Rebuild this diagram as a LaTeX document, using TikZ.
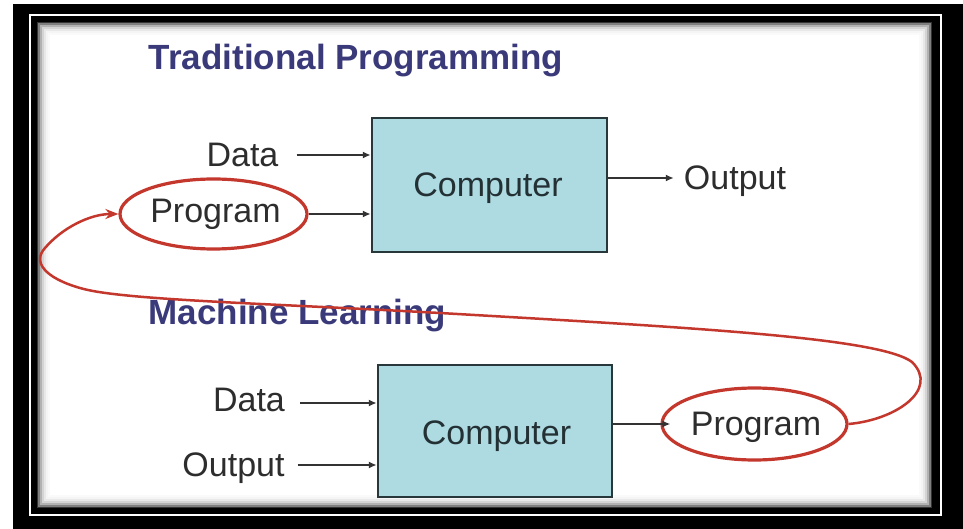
\documentclass[tikz,border=0pt]{standalone}
\usepackage{fontspec}
\setmainfont{Liberation Sans}
\usetikzlibrary{arrows.meta,shapes.geometric}
\definecolor{titleblue}{RGB}{58,58,122}
\definecolor{boxfill}{RGB}{174,218,226}
\definecolor{boxline}{RGB}{40,55,58}
\definecolor{loopred}{RGB}{195,55,45}
\definecolor{labelgray}{RGB}{45,45,45}
\tikzset{
  lbl/.style={inner sep=0pt, text depth=0pt, text=labelgray, font=\fontsize{34pt}{40pt}\selectfont},
  ttl/.style={inner sep=0pt, text depth=0pt, text=titleblue, font=\fontsize{35pt}{42pt}\selectfont\bfseries},
  compbox/.style={draw=boxline, fill=boxfill, line width=2.5pt, minimum width=235pt, minimum height=134pt, inner sep=0pt},
  ring/.style={draw=loopred, line width=3.2pt, ellipse, inner sep=0pt},
  arr/.style={draw=black!80, line width=1.6pt, -{Latex[length=8pt,width=7pt]}},
  loop/.style={draw=loopred, line width=2.5pt, -{Stealth[length=13pt,width=10pt]}}
}
\begin{document}
\begin{tikzpicture}[x=1pt,y=-1pt]
\useasboundingbox (0,0) rectangle (963,529);
% frame
\fill[white] (0,0) rectangle (963,529);
\fill[black] (13,4) rectangle (963,529);
\draw[white, line width=2pt] (30,15) rectangle (941,515);
\fill[white] (37,22) rectangle (932,508);
\foreach \i/\o in {0/0.8,2/0.5,4/0.3,6/0.17,8/0.09,10/0.04,12/0.02}
  \draw[black, opacity=\o, line width=2pt] ({37+\i},{22+\i}) rectangle ({932-\i},{508-\i});
% titles
\node[ttl] (t1) at (356,57) {Traditional Programming};
\node[ttl] (t2) at (297.5,311.5) {Machine Learning};
% top section
\node[compbox] (c1) at (489.5,185) {};
\node[lbl, text=boxline!90!black] (c1t) at (488,185) {Computer};
\node[lbl] (d1) at (242.5,155) {Data};
\node[lbl] (p1) at (215.5,211) {Program};
\node[ring, minimum width=187pt, minimum height=70pt] (e1) at (213.5,214) {};
\node[lbl] (o1) at (735,177.5) {Output};
\draw[arr] ([xshift=18pt]d1.east) -- (d1.east -| c1.west);
\draw[arr] (e1.east) -- (e1.east -| c1.west);
\draw[arr] (c1.east |- 0,178) coordinate (c1o) -- ([xshift=-10pt]o1.west |- c1o);
% bottom section
\node[compbox, minimum width=234pt, minimum height=132pt] (c2) at (495,431) {};
\node[lbl, text=boxline!90!black] (c2t) at (496.5,432.5) {Computer};
\node[lbl] (d2) at (249,400) {Data};
\node[lbl] (o2) at (233.5,464.5) {Output};
\node[lbl] (p2) at (756,423.5) {Program};
\node[ring, minimum width=185pt, minimum height=72pt] (e2) at (754.5,424) {};
\draw[arr] ([xshift=15pt]d2.east |- 0,403) coordinate (d2a) -- (c2.west |- d2a);
\draw[arr] ([xshift=13pt]o2.east |- 0,465) coordinate (o2a) -- (c2.west |- o2a);
\draw[arr] (c2.east |- e2.west) -- ([xshift=10pt]e2.west);
% feedback loop (drawn over the Machine Learning title)
\draw[loop] (e2.east) .. controls (895,420) and (940,390) .. (912,362)
  .. controls (880,338) and (700,328) .. (440,313)
  .. controls (260,303) and (120,300) .. (80,288)
  .. controls (45,278) and (32,262) .. (45,248)
  .. controls (62,228) and (90,214) .. (e1.west);
\end{tikzpicture}
\end{document}
